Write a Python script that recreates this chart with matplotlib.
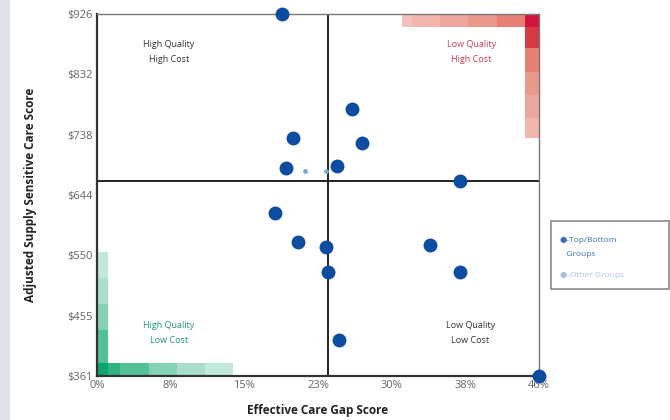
import matplotlib
matplotlib.use("Agg")
import matplotlib.pyplot as plt
from matplotlib.patches import Rectangle
import numpy as np

plt.rcParams['font.family'] = ['Open Sans', 'DejaVu Sans']

# Data (x = effective care gap score in %, y = adjusted supply sensitive care score in $)
top_x = [19.1, 26.3, 20.2, 27.3, 19.5, 24.8, 37.4, 18.4, 20.7, 23.6, 23.8, 34.4, 37.5, 25.0, 45.6]
top_y = [926, 778, 733, 725, 686, 689, 666, 616, 571, 563, 524, 566, 524, 417, 361.4]
other_x = [21.5, 23.6]
other_y = [681, 681]
x_ticklabels = ["0%", "8%", "15%", "23%", "30%", "38%", "46%"]
y_ticklabels = ["$361", "$455", "$550", "$644", "$738", "$832", "$926"]
x_min, x_max = 0.0, 45.6
y_min, y_max = 361.35, 925.95
x_split, y_split = 23.8, 665.5
quadrant_labels = ["High Quality\nHigh Cost", "Low Quality\nHigh Cost",
                   "High Quality\nLow Cost", "Low Quality\nLow Cost"]
legend_labels = ["Top/Bottom\n   Groups", "Other Groups"]

fig = plt.figure(figsize=(6.7, 4.2), dpi=100)
fig.patches.append(Rectangle((0, 0), 0.013, 1, transform=fig.transFigure,
                             color="#dfe3e8", zorder=0))
ax = fig.add_axes([97/670, 44/420, 442/670, 362/420])
ax.set_xlim(x_min, x_max)
ax.set_ylim(y_min, y_max)

ax.set_xticks(np.linspace(x_min, x_max, 7))
ax.set_xticklabels(x_ticklabels)
ax.set_yticks(np.linspace(y_min, y_max, 7))
ax.set_yticklabels(y_ticklabels)
ax.tick_params(length=0, labelsize=8, labelcolor="#666666", pad=3)

for s in ["left", "bottom"]:
    ax.spines[s].set_color("#333333")
    ax.spines[s].set_linewidth(1.6)
for s in ["top", "right"]:
    ax.spines[s].set_color("#777777")
    ax.spines[s].set_linewidth(1.0)

# gradient corner bars (axes fraction)
T = ax.transAxes
red_alphas = [1.0, 0.8, 0.65, 0.55, 0.45, 0.38]
green_alphas = [1.0, 0.85, 0.7, 0.5, 0.35, 0.25]
red = "#d2143a"
red2 = "#e0604f"
green = "#0aa66a"
# red horizontal strip
hx = [1.0, 0.968, 0.905, 0.84, 0.776, 0.712, 0.69]
for i in range(6):
    c = red if i == 0 else red2
    ax.add_patch(Rectangle((hx[i+1], 0.964), hx[i]-hx[i+1], 0.036, transform=T,
                           color=c, alpha=red_alphas[i] if i else 1.0, lw=0, zorder=1))
# red vertical strip
hy = [1.0, 0.964, 0.905, 0.84, 0.775, 0.712, 0.657]
ax.add_patch(Rectangle((0.968, 0.905), 0.032, 0.059, transform=T,
                       color="#d83a45", lw=0, zorder=1))
for i in range(2, 6):
    ax.add_patch(Rectangle((0.968, hy[i+1]), 0.032, hy[i]-hy[i+1], transform=T,
                           color=red2, alpha=red_alphas[i-1], lw=0, zorder=1))
# green strips
gx = [0.0, 0.025, 0.052, 0.117, 0.18, 0.245, 0.308]
for i in range(6):
    ax.add_patch(Rectangle((gx[i], 0.0), gx[i+1]-gx[i], 0.036, transform=T,
                           color=green, alpha=green_alphas[i], lw=0, zorder=1))
gy = [0.0, 0.036, 0.127, 0.199, 0.271, 0.343]
for i in range(1, 5):
    ax.add_patch(Rectangle((0.0, gy[i]), 0.025, gy[i+1]-gy[i], transform=T,
                           color=green, alpha=green_alphas[i+1], lw=0, zorder=1))

ax.axvline(x_split, color="#222222", lw=1.4, zorder=2)
ax.axhline(y_split, color="#222222", lw=1.4, zorder=2)

ax.scatter(other_x, other_y, s=12, color="#7fa9d9", zorder=3, clip_on=False, lw=0)
ax.scatter(top_x, top_y, s=100, color="#0c4da2", zorder=4, clip_on=False, lw=0)

qkw = dict(transform=T, ha="center", va="center", fontsize=6.5, linespacing=1.9)
ax.text(0.163, 0.895, quadrant_labels[0], color="#333333", **qkw)
ax.text(0.847, 0.895, quadrant_labels[1], color="#d23a5a", **qkw)
ax.text(0.163, 0.118, quadrant_labels[2], color="#1a9a6a", **qkw)
ax.text(0.845, 0.118, quadrant_labels[3], color="#333333", **qkw)

ax.set_xlabel("Effective Care Gap Score", fontsize=8.5, fontweight="bold",
              color="#222222", labelpad=9)
ax.set_ylabel("Adjusted Supply Sensitive Care Score", fontsize=8.5, fontweight="bold",
              color="#222222", labelpad=22)

# legend box
fig.patches.append(Rectangle((551/670, (420-289)/420), 118/670, 68/420,
                             transform=fig.transFigure, fill=False,
                             edgecolor="#8a8a8a", lw=1.2, zorder=5))
fig.text(560/670, (420-247)/420, "\u25cf-" + legend_labels[0], fontsize=6,
         color="#3a6fb5", va="center", linespacing=2.4)
fig.text(560/670, (420-275)/420, "\u25cf-" + legend_labels[1], fontsize=6,
         color="#a9c3e3", va="center")

fig.savefig("out.png", dpi=100)
